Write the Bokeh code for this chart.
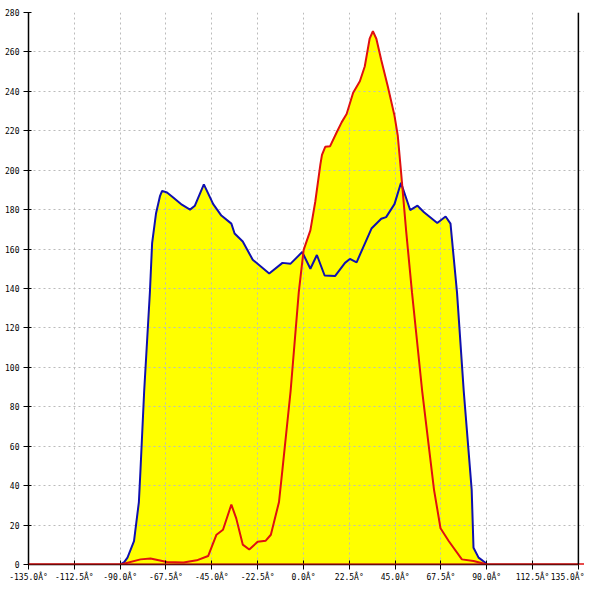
from bokeh.plotting import figure
from bokeh.models import FixedTicker, Span, ColumnDataSource
from bokeh.embed import file_html
from bokeh.resources import INLINE

# Blue series (angle, value)
blue_x = [-90.0, -88.0, -86.4, -83.2, -80.8, -80.0, -78.2, -75.4, -74.3, -72.4, -70.4, -69.4, -67.0,
          -63.8, -59.7, -55.7, -53.3, -48.9, -44.3, -40.3, -35.4, -33.8, -29.8, -24.9, -16.8,
          -10.3, -6.3, -0.6, 3.4, 6.6, 10.4, 15.5, 20.4, 22.8, 26.1, 33.4, 38.2, 40.6, 44.7,
          47.9, 52.4, 56.0, 59.2, 65.7, 69.8, 72.2, 75.4, 78.7, 82.6, 83.5, 86.0, 89.2, 90.0]
blue_y = [0.0, 1.2, 3.5, 11.8, 31.7, 48.3, 88.0, 138.0, 163.0, 178.0, 187.0, 189.5, 188.7,
          186.0, 182.5, 180.0, 182.0, 192.8, 182.8, 177.0, 172.9, 167.9, 163.8, 154.6, 147.6,
          153.0, 152.6, 158.5, 150.0, 157.0, 146.6, 146.3, 153.0, 155.0, 153.3, 170.4, 175.4, 176.2, 182.8,
          193.6, 179.8, 182.0, 178.7, 173.2, 176.5, 172.9, 138.0, 88.0, 38.0, 8.5, 3.5, 1.0, 0.0]

# Red series (angle, value)
red_x = [-135.0, -90.0, -89.7, -80.0, -75.1, -67.0, -58.9, -52.4, -46.8, -42.7, -39.5, -35.4,
         -33.0, -29.8, -26.6, -22.5, -18.5, -16.0, -12.0, -10.3, -6.3, -2.3, 0.1, 3.4, 5.8, 8.3,
         9.1, 10.7, 13.1, 16.4, 18.8, 21.2, 24.4, 27.7, 30.1, 32.5, 34.1, 35.8, 38.2, 41.4,
         44.7, 46.3, 47.9, 50.4, 53.3, 55.8, 58.3, 64.1, 67.3, 71.4, 77.8, 83.5, 88.4, 90.0, 138.0]
red_y = [0.0, 0.0, 0.0, 2.6, 3.0, 1.3, 1.0, 2.1, 4.3, 15.1, 17.6, 30.4,
         23.4, 10.1, 7.6, 11.5, 12.1, 15.1, 31.7, 48.3, 88.0, 138.0, 159.6, 169.5, 184.0, 202.8,
         207.8, 211.9, 212.2, 219.4, 224.4, 228.5, 239.3, 245.1, 252.6, 266.7, 270.5, 266.7, 255.9, 242.6,
         227.7, 217.7, 199.4, 169.5, 138.0, 113.0, 88.0, 38.0, 18.4, 11.8, 2.6, 1.8, 0.5, 0.0, 0.0]

x_ticks = [-135.0, -112.5, -90.0, -67.5, -45.0, -22.5, 0.0, 22.5, 45.0, 67.5, 90.0, 112.5, 135.0]
x_tick_labels = ["-135.0Â°", "-112.5Â°", "-90.0Â°", "-67.5Â°", "-45.0Â°", "-22.5Â°", "0.0Â°",
                 "22.5Â°", "45.0Â°", "67.5Â°", "90.0Â°", "112.5Â°", "135.0Â°"]
y_ticks = [0, 20, 40, 60, 80, 100, 120, 140, 160, 180, 200, 220, 240, 260, 280]

p = figure(width=584, height=584, output_backend="svg", toolbar_location=None,
           x_range=(-135, 138), y_range=(0, 280),
           min_border_left=28, min_border_right=0, min_border_top=12, min_border_bottom=16)
p.outline_line_color = None
p.background_fill_color = "white"

blue_src = ColumnDataSource(dict(x=blue_x, y=blue_y))
red_src = ColumnDataSource(dict(x=red_x, y=red_y))

p.varea(x="x", y1=0, y2="y", source=blue_src, fill_color="#ffff00", level="image")
p.varea(x="x", y1=0, y2="y", source=red_src, fill_color="#ffff00", level="image")

p.line(x="x", y="y", source=blue_src, line_color="#1010b0", line_width=2)
p.line(x="x", y="y", source=red_src, line_color="#e01010", line_width=2)

p.add_layout(Span(location=0, dimension="width", line_color="#e01010", line_width=2))
p.add_layout(Span(location=135, dimension="height", line_color="black", line_width=1.5))

for ax in (p.xaxis[0], p.yaxis[0]):
    ax.major_label_text_font = "DejaVu Sans Mono"
    ax.major_label_text_font_size = "8px"
    ax.major_label_text_color = "black"
    ax.axis_line_color = "black"
    ax.axis_line_width = 1.5
    ax.major_tick_line_color = "black"
    ax.minor_tick_line_color = None

p.xaxis.ticker = FixedTicker(ticks=x_ticks)
p.xaxis.major_label_overrides = {t: l for t, l in zip(x_ticks, x_tick_labels)}
p.xaxis.bounds = (-135, 135)
p.xaxis.major_tick_in = 4
p.xaxis.major_tick_out = 5
p.xaxis.major_label_standoff = 3

p.yaxis.ticker = FixedTicker(ticks=y_ticks)
p.yaxis.major_tick_in = 3
p.yaxis.major_tick_out = 5
p.yaxis.major_label_standoff = 4

for g in (p.xgrid[0], p.ygrid[0]):
    g.grid_line_color = "#bbbbbb"
    g.grid_line_dash = "2 3"
    g.grid_line_width = 1
p.xgrid.ticker = FixedTicker(ticks=x_ticks)
p.ygrid.ticker = FixedTicker(ticks=y_ticks)

open("out.html", "w").write(file_html(p, INLINE))
